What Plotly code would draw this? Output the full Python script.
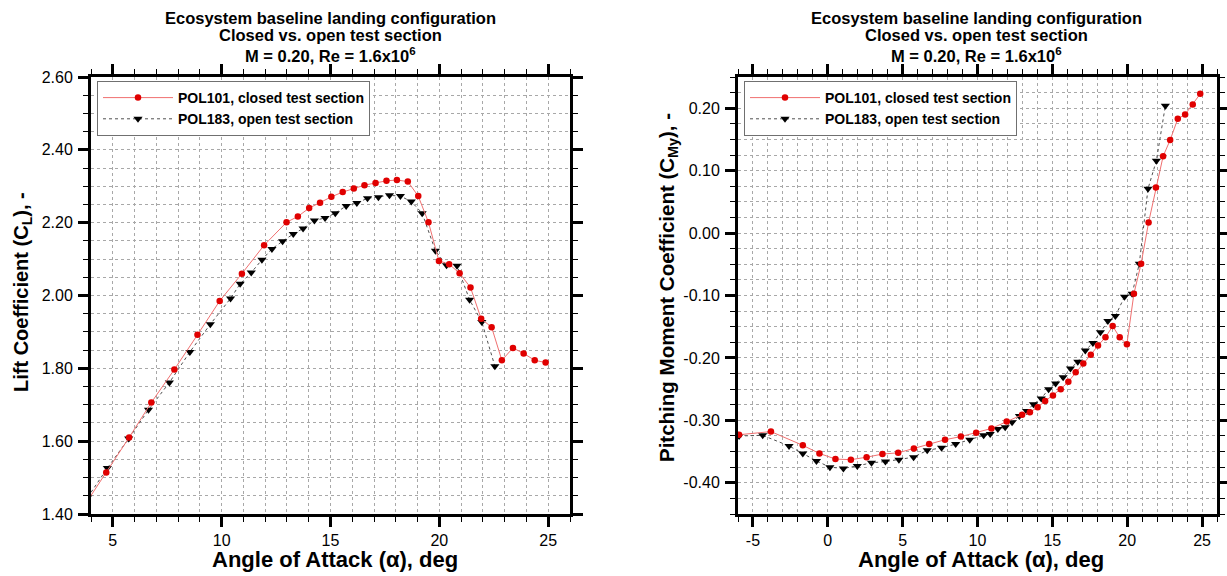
import plotly.graph_objects as go

# ---------------- data ----------------
# POL101, closed test section
alpha_closed = [-5.93, -3.80, -1.67, -0.56, 0.51, 1.54, 2.59, 3.65,
                4.70, 5.75, 6.77, 7.83, 8.89, 9.91, 10.93, 11.95, 12.98, 13.50,
                14.02, 14.52, 15.04, 15.56, 16.07, 16.56, 17.07, 17.57, 18.05, 18.55,
                19.03, 19.50, 19.98, 20.45, 20.93, 21.43, 21.92, 22.40, 22.87, 23.38,
                23.87, 24.38, 24.88]
# lift coefficient for alpha_closed[7:] (lower angles are outside the left chart)
cl_closed = [1.419,
             1.514, 1.610, 1.706, 1.797, 1.892, 1.985, 2.060, 2.138, 2.201, 2.217,
             2.240, 2.255, 2.271, 2.284, 2.294, 2.303, 2.309, 2.315, 2.317, 2.313,
             2.273, 2.201, 2.095, 2.086, 2.061, 2.022, 1.936, 1.913, 1.822, 1.856,
             1.841, 1.822, 1.816]
cm_closed = [-0.323, -0.318, -0.340, -0.353, -0.362, -0.363, -0.359, -0.354,
             -0.352, -0.345, -0.338, -0.331, -0.326, -0.320, -0.313, -0.302, -0.291, -0.287,
             -0.279, -0.269, -0.260, -0.250, -0.238, -0.223, -0.209, -0.195, -0.180, -0.167,
             -0.149, -0.167, -0.178, -0.097, -0.049, 0.017, 0.073, 0.123, 0.149, 0.183,
             0.190, 0.206, 0.223]

# POL183, open test section
alpha_open = [-5.93, -4.35, -2.59, -1.67, -0.76, 0.14, 1.04, 1.97, 2.92, 3.85,
              4.75, 5.73, 6.64, 7.60, 8.54, 9.48, 10.41, 10.85, 11.36, 11.85,
              12.31, 12.80, 13.29, 13.74, 14.26, 14.75, 15.22, 15.72, 16.21, 16.70,
              17.20, 17.71, 18.21, 18.71, 19.21, 19.82, 20.33, 20.81, 21.39, 21.95,
              22.55]
# lift coefficient for alpha_open[9:]
cl_open = [1.446,
           1.526, 1.607, 1.686, 1.761, 1.845, 1.921, 1.992, 2.032, 2.063, 2.098,
           2.128, 2.149, 2.169, 2.184, 2.206, 2.213, 2.226, 2.246, 2.254, 2.267,
           2.270, 2.275, 2.273, 2.258, 2.226, 2.123, 2.083, 2.082, 1.988, 1.927,
           1.806]
cm_open = [-0.325, -0.324, -0.341, -0.353, -0.365, -0.375, -0.377, -0.373, -0.368, -0.366,
           -0.363, -0.359, -0.348, -0.344, -0.338, -0.331, -0.324, -0.322, -0.314, -0.311,
           -0.303, -0.293, -0.285, -0.274, -0.265, -0.250, -0.241, -0.231, -0.217, -0.206,
           -0.188, -0.176, -0.159, -0.141, -0.133, -0.102, -0.097, -0.049, 0.071, 0.116,
           0.204]

series_names = ["POL101, closed test section", "POL183, open test section"]

cl_tickvals = [1.40, 1.60, 1.80, 2.00, 2.20, 2.40, 2.60]
cm_tickvals = [-0.40, -0.30, -0.20, -0.10, 0.00, 0.10, 0.20]
cm_ticktext = ["-0.40", "-0.30", "-0.20", "-0.10", "0.00", "0.10", "0.20"]
aoa_left_tickvals = [5, 10, 15, 20, 25]
aoa_right_tickvals = [-5, 0, 5, 10, 15, 20, 25]
aoa_right_ticktext = ["-5", "0", "5", "10", "15", "20", "25"]

title_lines = ["Ecosystem baseline landing configuration",
               "Closed vs. open test section",
               "M = 0.20, Re = 1.6x10<sup>6</sup>"]
xtitle = "Angle of Attack (α), deg"
ytitle_left = "Lift Coefficient (C<sub>L</sub>), -"
ytitle_right = "Pitching Moment Coefficient (C<sub>My</sub>), -"

# ---------------- figure ----------------
W, H = 1227, 576
FONT = "Liberation Sans, Arial, sans-serif"

RED_LINE = "#f07070"
RED_MARK = "#e00000"
BLACK_LINE = "#505050"

def px(x):
    return x / W

def py(y):
    return 1 - y / H

fig = go.Figure()

# left plot: open first so closed markers sit on top
fig.add_trace(go.Scatter(
    x=alpha_open[9:], y=cl_open, mode="lines+markers", name=series_names[1],
    line=dict(color=BLACK_LINE, width=1, dash="dot"),
    marker=dict(symbol="triangle-down", size=8, color="black"),
    xaxis="x", yaxis="y", legend="legend", legendrank=2))
fig.add_trace(go.Scatter(
    x=alpha_closed[7:], y=cl_closed, mode="lines+markers", name=series_names[0],
    line=dict(color=RED_LINE, width=1),
    marker=dict(symbol="circle", size=6.5, color=RED_MARK),
    xaxis="x", yaxis="y", legend="legend", legendrank=1))

# right plot
fig.add_trace(go.Scatter(
    x=alpha_open, y=cm_open, mode="lines+markers", name=series_names[1],
    line=dict(color=BLACK_LINE, width=1, dash="dot"),
    marker=dict(symbol="triangle-down", size=8, color="black"),
    xaxis="x2", yaxis="y2", legend="legend2", legendrank=2))
fig.add_trace(go.Scatter(
    x=alpha_closed, y=cm_closed, mode="lines+markers", name=series_names[0],
    line=dict(color=RED_LINE, width=1),
    marker=dict(symbol="circle", size=6.5, color=RED_MARK),
    xaxis="x2", yaxis="y2", legend="legend2", legendrank=1))

GRID = "#a8a8a8"

def axis_common(standoff):
    return dict(
        showline=True, linecolor="black", linewidth=3, mirror="allticks",
        ticks="outside", ticklen=10, tickwidth=3, tickcolor="black",
        showgrid=True, gridcolor=GRID, griddash="dot", gridwidth=1,
        zeroline=False, automargin=False,
        tickfont=dict(family=FONT, size=16, color="black"),
        ticklabelstandoff=standoff,
    )

def minor(dt):
    return dict(tick0=0, dtick=dt, ticks="outside", ticklen=5, tickwidth=1,
                tickcolor="black", showgrid=True, gridcolor=GRID,
                griddash="dot", gridwidth=1)

left_dom = [px(91), px(570)]
right_dom = [px(738), px(1217)]
ydom = [py(514), py(77)]

xa = axis_common(0)
xa.update(domain=left_dom, range=[4, 26], tickmode="array", tickvals=aoa_left_tickvals,
          minor=minor(1), anchor="y")
ya = axis_common(2)
ya.update(domain=ydom, range=[1.40, 2.60], tickmode="array", tickvals=cl_tickvals,
          tickformat=".2f", minor=minor(0.05), anchor="x")
xa2 = axis_common(0)
xa2.update(domain=right_dom, range=[-6, 26], tickmode="array", tickvals=aoa_right_tickvals,
           ticktext=aoa_right_ticktext, minor=minor(1), anchor="y2")
ya2 = axis_common(2)
ya2.update(domain=ydom, range=[-0.45, 0.25], tickmode="array", tickvals=cm_tickvals,
           ticktext=cm_ticktext, minor=minor(0.025), anchor="x2")

legend_common = dict(
    xanchor="left", yanchor="top", bgcolor="white", bordercolor="#707070",
    borderwidth=1, font=dict(family=FONT, size=14, color="black", weight="bold"),
    itemwidth=70, tracegroupgap=0, traceorder="normal",
)

fig.update_layout(
    width=W, height=H,
    margin=dict(l=0, r=0, t=0, b=0),
    paper_bgcolor="white", plot_bgcolor="white",
    showlegend=True,
    xaxis=xa, yaxis=ya, xaxis2=xa2, yaxis2=ya2,
    legend=dict(x=px(97), y=py(81), **legend_common),
    legend2=dict(x=px(744), y=py(81), **legend_common),
    font=dict(family=FONT, color="black"),
)

annotations = []
for cx, tx in ((330, 335), (977, 981)):
    for ln, yy in zip(title_lines, (18, 35, 55)):
        annotations.append(dict(
            text="<b>" + ln + "</b>", x=px(cx), y=py(yy), xref="paper", yref="paper",
            xanchor="center", yanchor="middle", showarrow=False,
            font=dict(family=FONT, size=16.5, color="black")))
    annotations.append(dict(
        text="<b>" + xtitle + "</b>", x=px(tx), y=py(559), xref="paper", yref="paper",
        xanchor="center", yanchor="middle", showarrow=False,
        font=dict(family=FONT, size=22, color="black")))

annotations.append(dict(
    text="<b>" + ytitle_left + "</b>", x=px(22), y=py(292), xref="paper", yref="paper",
    xanchor="center", yanchor="middle", showarrow=False, textangle=-90,
    font=dict(family=FONT, size=20, color="black")))
annotations.append(dict(
    text="<b>" + ytitle_right + "</b>", x=px(668), y=py(288), xref="paper", yref="paper",
    xanchor="center", yanchor="middle", showarrow=False, textangle=-90,
    font=dict(family=FONT, size=20.5, color="black")))

fig.update_layout(annotations=annotations)

fig.write_html("out.html", config={"displayModeBar": False},
               post_script="document.body.style.margin='0px';")
